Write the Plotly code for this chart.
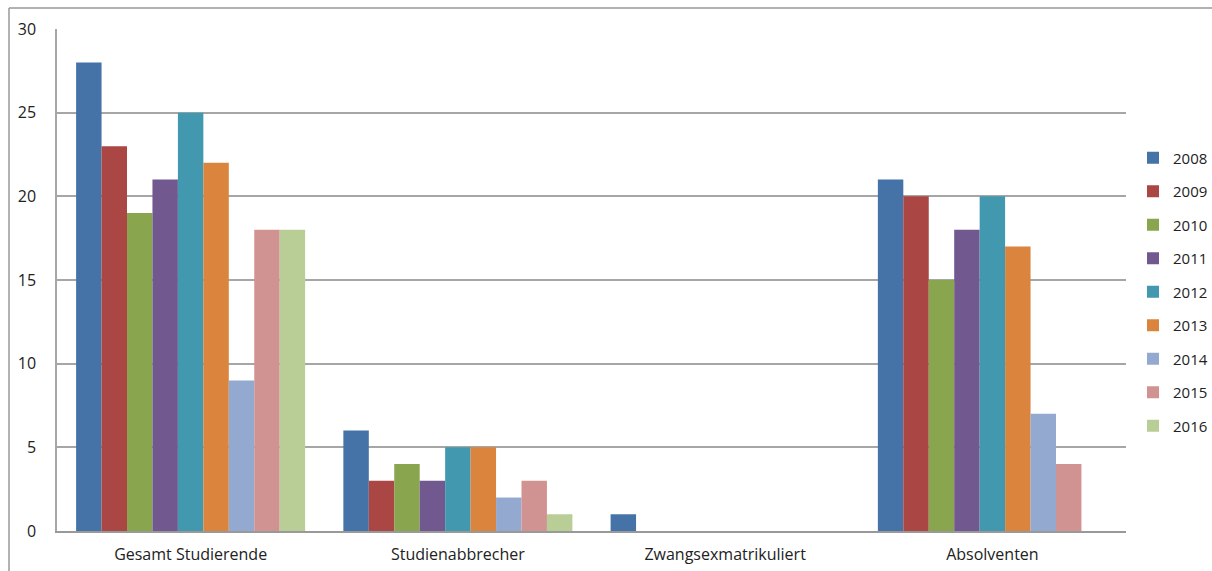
import plotly.graph_objects as go

categories = ["Gesamt Studierende", "Studienabbrecher", "Zwangsexmatrikuliert", "Absolventen"]
years = ["2008", "2009", "2010", "2011", "2012", "2013", "2014", "2015", "2016"]
values = {
    "2008": [28, 6, 1, 21],
    "2009": [23, 3, 0, 20],
    "2010": [19, 4, 0, 15],
    "2011": [21, 3, 0, 18],
    "2012": [25, 5, 0, 20],
    "2013": [22, 5, 0, 17],
    "2014": [9, 2, 0, 7],
    "2015": [18, 3, 0, 4],
    "2016": [18, 1, 0, 0],
}
colors = ["#4572A7", "#AA4643", "#89A54E", "#71588F", "#4198AF",
          "#DB843D", "#93A9CF", "#D19392", "#B9CD96"]

FONT = "Open Sans, Lato, sans-serif"

fig = go.Figure()
for y, c in zip(years, colors):
    fig.add_trace(go.Bar(name=y, x=categories, y=values[y], marker_color=c,
                         marker_line_width=0, legendgroup=y))

W, H = 1212, 571
ml, mr, mt, mb = 57, 86, 29, 40
pw, ph = W - ml - mr, H - mt - mb

fig.update_layout(
    width=W, height=H,
    margin=dict(l=ml, r=mr, t=mt, b=mb, autoexpand=False),
    barmode="group", bargap=0.143, bargroupgap=0,
    plot_bgcolor="white", paper_bgcolor="white",
    font=dict(family=FONT, size=16, color="#222"),
    legend=dict(x=(1133 - ml) / pw, xanchor="left", y=0.476, yanchor="middle",
                tracegroupgap=11, font=dict(size=15, color="#222"),
                itemwidth=30),
    showlegend=True,
    shapes=[
        dict(type="line", xref="paper", yref="paper",
             x0=(9 - ml) / pw, x1=(9 - ml) / pw, y0=-1, y1=1 + (mt - 8) / ph,
             line=dict(color="#999", width=1.5)),
        dict(type="line", xref="paper", yref="paper",
             x0=(9 - ml) / pw, x1=2, y0=1 + (mt - 8) / ph, y1=1 + (mt - 8) / ph,
             line=dict(color="#999", width=1.5)),
    ],
)
fig.update_xaxes(showline=True, linecolor="#999", linewidth=1.5,
                 ticks="", ticklabelstandoff=8,
                 tickfont=dict(size=16, color="#222"))
fig.update_yaxes(range=[0, 30], dtick=5, showgrid=True, gridcolor="#A6A6A6",
                 gridwidth=1.5, showline=True, linecolor="#A6A6A6", linewidth=1.5,
                 zeroline=False, ticks="", ticklabelstandoff=16,
                 tickfont=dict(size=16, color="#222"))

fig.write_html("out.html")
